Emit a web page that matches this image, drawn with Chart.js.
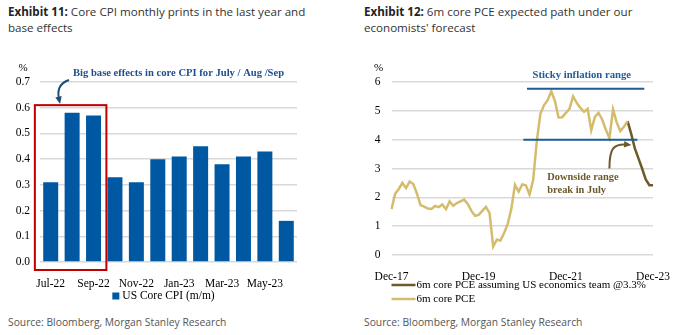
<!DOCTYPE html>
<html>
<head>
<meta charset="utf-8">
<script src="https://cdn.jsdelivr.net/npm/chart.js@4.4.1/dist/chart.umd.min.js"></script>
<style>
  body { margin: 0; width: 685px; height: 335px; background: #fff; position: relative; overflow: hidden; font-family: "Open Sans", sans-serif; }
  .titulo { position: absolute; top: 4px; font-size: 11.6px; line-height: 16px; color: #333; }
  .titulo b { color: #222; }
  .fuente { position: absolute; top: 315px; font-size: 10.3px; color: #555; }
  .lienzo { position: absolute; top: 55px; }
</style>
</head>
<body>
<div class="titulo" style="left:8px;"><b>Exhibit 11:</b> Core CPI monthly prints in the last year and<br>base effects</div>
<div class="titulo" style="left:364px;"><b>Exhibit 12:</b> 6m core PCE expected path under our<br>economists' forecast</div>
<div class="lienzo" style="left:0px;width:335px;height:250px;"><canvas id="graficoCPI"></canvas></div>
<div class="lienzo" style="left:340px;width:345px;height:250px;"><canvas id="graficoPCE"></canvas></div>
<div class="fuente" style="left:8px;">Source: Bloomberg, Morgan Stanley Research</div>
<div class="fuente" style="left:364px;">Source: Bloomberg, Morgan Stanley Research</div>

<script>
// Datos del gráfico izquierdo (CPI subyacente mensual)
const mesesCPI = ['Jul-22', 'Aug-22', 'Sep-22', 'Oct-22', 'Nov-22', 'Dec-22', 'Jan-23', 'Feb-23', 'Mar-23', 'Apr-23', 'May-23', 'Jun-23'];
const valoresCPI = [0.31, 0.58, 0.57, 0.33, 0.31, 0.40, 0.41, 0.45, 0.38, 0.41, 0.43, 0.16];
const etiquetasCPI = ['Jul-22', 'Sep-22', 'Nov-22', 'Jan-23', 'Mar-23', 'May-23'];

// Datos del gráfico derecho (PCE subyacente 6m)
const mesesPCE = [
  'Dec-17', 'Jan-18', 'Feb-18', 'Mar-18', 'Apr-18', 'May-18', 'Jun-18', 'Jul-18', 'Aug-18', 'Sep-18', 'Oct-18', 'Nov-18',
  'Dec-18', 'Jan-19', 'Feb-19', 'Mar-19', 'Apr-19', 'May-19', 'Jun-19', 'Jul-19', 'Aug-19', 'Sep-19', 'Oct-19', 'Nov-19',
  'Dec-19', 'Jan-20', 'Feb-20', 'Mar-20', 'Apr-20', 'May-20', 'Jun-20', 'Jul-20', 'Aug-20', 'Sep-20', 'Oct-20', 'Nov-20',
  'Dec-20', 'Jan-21', 'Feb-21', 'Mar-21', 'Apr-21', 'May-21', 'Jun-21', 'Jul-21', 'Aug-21', 'Sep-21', 'Oct-21', 'Nov-21',
  'Dec-21', 'Jan-22', 'Feb-22', 'Mar-22', 'Apr-22', 'May-22', 'Jun-22', 'Jul-22', 'Aug-22', 'Sep-22', 'Oct-22', 'Nov-22',
  'Dec-22', 'Jan-23', 'Feb-23', 'Mar-23', 'Apr-23', 'May-23', 'Jun-23', 'Jul-23', 'Aug-23', 'Sep-23', 'Oct-23', 'Nov-23',
  'Dec-23'
];
const pceReal = [
  1.59, 2.12, 2.29, 2.50, 2.32, 2.55, 2.46, 2.13, 1.73, 1.68, 1.61, 1.60,
  1.70, 1.66, 1.75, 1.59, 1.86, 1.71, 1.80, 1.86, 1.92, 1.77, 1.53, 1.36,
  1.39, 1.53, 1.67, 1.45, 0.29, 0.53, 0.50, 0.76, 1.08, 1.60, 2.43, 2.20,
  2.45, 2.42, 2.10, 2.60, 3.95, 4.90, 5.20, 5.37, 5.68, 5.34, 4.77, 4.78,
  4.93, 5.07, 5.50, 5.28, 5.10, 4.97, 5.07, 4.33, 4.79, 4.93, 4.70, 4.35,
  4.05, 5.05, 4.60, 4.30, 4.45, 4.64, null, null, null, null, null, null,
  null
];
const pceProyeccion = [
  null, null, null, null, null, null, null, null, null, null, null, null,
  null, null, null, null, null, null, null, null, null, null, null, null,
  null, null, null, null, null, null, null, null, null, null, null, null,
  null, null, null, null, null, null, null, null, null, null, null, null,
  null, null, null, null, null, null, null, null, null, null, null, null,
  null, null, null, null, null, 4.64, 4.20, 3.70, 3.35, 3.00, 2.62, 2.42,
  2.42
];
const etiquetasPCE = ['Dec-17', 'Dec-19', 'Dec-21', 'Dec-23'];

const serif = '"Liberation Serif", "Times New Roman", serif';
const colorGrid = '#d9d9d9';

// Flecha curva sencilla
function flecha(ctx, puntos, color) {
  const [p0, c1, c2, p1] = puntos;
  ctx.save();
  ctx.strokeStyle = color;
  ctx.fillStyle = color;
  ctx.lineWidth = 2;
  ctx.beginPath();
  ctx.moveTo(p0[0], p0[1]);
  ctx.bezierCurveTo(c1[0], c1[1], c2[0], c2[1], p1[0], p1[1]);
  ctx.stroke();
  const ang = Math.atan2(p1[1] - c2[1], p1[0] - c2[0]);
  ctx.beginPath();
  ctx.moveTo(p1[0] + 5 * Math.cos(ang), p1[1] + 5 * Math.sin(ang));
  ctx.lineTo(p1[0] + 4 * Math.cos(ang + 2.2), p1[1] + 4 * Math.sin(ang + 2.2));
  ctx.lineTo(p1[0] + 4 * Math.cos(ang - 2.2), p1[1] + 4 * Math.sin(ang - 2.2));
  ctx.closePath();
  ctx.fill();
  ctx.restore();
}

// Gráfico de barras: CPI
function crearGraficoCPI() {
  const ctx = document.getElementById('graficoCPI').getContext('2d');
  const anotaciones = {
    id: 'anotacionesCPI',
    afterDraw(chart) {
      const c = chart.ctx, a = chart.chartArea;
      const x = chart.scales.x, y = chart.scales.y;
      c.save();
      // símbolo de porcentaje
      c.font = '11px ' + serif;
      c.fillStyle = '#000';
      c.textAlign = 'center';
      c.textBaseline = 'middle';
      c.fillText('%', a.left - 17, a.top - 14);
      // recuadro rojo sobre Jul/Aug/Sep
      const ancho = (x.getPixelForValue(1) - x.getPixelForValue(0));
      const izq = x.getPixelForValue(0) - ancho * 0.74;
      const der = x.getPixelForValue(2) + ancho * 0.6;
      const arriba = y.getPixelForValue(0.61);
      const abajo = a.bottom + 8;
      c.strokeStyle = '#c00000';
      c.lineWidth = 2;
      c.strokeRect(izq, arriba, der - izq, abajo - arriba);
      // texto de anotación
      c.font = 'bold 10.6px ' + serif;
      c.fillStyle = '#1f4e8c';
      c.textAlign = 'left';
      c.fillText('Big base effects in core CPI for July / Aug /Sep', 73, a.top - 9);
      c.restore();
      flecha(c, [[69, a.top - 2], [60, a.top + 1], [57, a.top + 8], [59, a.top + 17]], '#1f4e79');
      // leyenda
      c.save();
      c.font = '11.5px ' + serif;
      const texto = chart.data.datasets[0].label;
      const tw = c.measureText(texto).width;
      const cx = (a.left + a.right) / 2 - 5;
      const lx = cx - (tw + 10) / 2;
      const ly = a.bottom + 34;
      c.fillStyle = chart.data.datasets[0].backgroundColor;
      c.fillRect(lx, ly - 3.5, 7, 7);
      c.fillStyle = '#000';
      c.textBaseline = 'middle';
      c.fillText(texto, lx + 10, ly);
      c.restore();
    }
  };
  new Chart(ctx, {
    type: 'bar',
    data: {
      labels: mesesCPI,
      datasets: [{
        label: 'US Core CPI (m/m)',
        data: valoresCPI,
        backgroundColor: '#0058a3',
        barPercentage: 0.7,
        categoryPercentage: 1
      }]
    },
    options: {
      responsive: true,
      maintainAspectRatio: false,
      animation: false,
      layout: { padding: { top: 27, right: 38, bottom: 0, left: 0 } },
      plugins: { legend: { display: false }, tooltip: { enabled: false } },
      scales: {
        x: {
          grid: { display: false },
          border: { display: false },
          afterFit(s) { s.height = 43; },
          ticks: {
            autoSkip: false,
            maxRotation: 0,
            padding: 7,
            color: '#000',
            font: { family: serif, size: 11.5 },
            callback(v) { const l = this.getLabelForValue(v); return etiquetasCPI.includes(l) ? l : ''; }
          }
        },
        y: {
          min: 0, max: 0.7,
          afterFit(s) { s.width = 40; },
          grid: { color: colorGrid, lineWidth: 1.5, drawTicks: false },
          border: { display: false },
          ticks: {
            stepSize: 0.1,
            padding: 10,
            color: '#000',
            font: { family: serif, size: 11.5 },
            callback(v) { return v.toFixed(1); }
          }
        }
      }
    },
    plugins: [anotaciones]
  });
}

// Gráfico de líneas: PCE
function crearGraficoPCE() {
  const ctx = document.getElementById('graficoPCE').getContext('2d');
  const anotaciones = {
    id: 'anotacionesPCE',
    afterDraw(chart) {
      const c = chart.ctx, a = chart.chartArea;
      const x = chart.scales.x, y = chart.scales.y;
      c.save();
      c.font = '11px ' + serif;
      c.fillStyle = '#000';
      c.textAlign = 'center';
      c.textBaseline = 'middle';
      c.fillText('%', a.left - 13, a.top - 14);
      // rango de inflación persistente
      c.strokeStyle = '#1f5c99';
      c.lineWidth = 2;
      c.beginPath();
      c.moveTo(x.getPixelForValue(37.3), y.getPixelForValue(5.77));
      c.lineTo(x.getPixelForValue(69.6), y.getPixelForValue(5.77));
      c.moveTo(x.getPixelForValue(36.3), y.getPixelForValue(4.0));
      c.lineTo(x.getPixelForValue(67.7), y.getPixelForValue(4.0));
      c.stroke();
      c.font = 'bold 10.7px ' + serif;
      c.fillStyle = '#1f5c99';
      c.fillText('Sticky inflation range', x.getPixelForValue(52.4), a.top - 7);
      c.font = 'bold 10.4px ' + serif;
      c.fillStyle = '#6b5a2b';
      c.textAlign = 'left';
      c.fillText('Downside range', x.getPixelForValue(42.9), y.getPixelForValue(2.71));
      c.fillText('break in July', x.getPixelForValue(42.9), y.getPixelForValue(2.23));
      c.restore();
      const px = x.getPixelForValue(60), py = y.getPixelForValue(3.0);
      flecha(c, [[px, py], [px, py - 20], [px + 4, py - 25], [px + 17, py - 24]], '#6b5a2b');
      // leyenda
      c.save();
      c.font = '11px ' + serif;
      c.textBaseline = 'middle';
      const orden = [1, 0];
      orden.forEach((i, k) => {
        const ds = chart.data.datasets[i];
        const ly = a.bottom + 30 + k * 14;
        c.strokeStyle = ds.borderColor;
        c.lineWidth = 2.5;
        c.beginPath();
        c.moveTo(a.left, ly);
        c.lineTo(a.left + 24, ly);
        c.stroke();
        c.fillStyle = '#000';
        c.fillText(ds.label, a.left + 25, ly);
      });
      c.restore();
    }
  };
  new Chart(ctx, {
    type: 'line',
    data: {
      labels: mesesPCE,
      datasets: [
        {
          label: '6m core PCE',
          data: pceReal,
          borderColor: '#d5bc6c',
          borderWidth: 2.5,
          pointRadius: 0,
          tension: 0,
          spanGaps: false
        },
        {
          label: '6m core PCE assuming US economics team @3.3%',
          data: pceProyeccion,
          borderColor: '#6b5a2b',
          borderWidth: 2.5,
          pointRadius: 0,
          tension: 0,
          spanGaps: false
        }
      ]
    },
    options: {
      responsive: true,
      maintainAspectRatio: false,
      animation: false,
      layout: { padding: { top: 27, right: 32, bottom: 0, left: 0 } },
      plugins: { legend: { display: false }, tooltip: { enabled: false } },
      scales: {
        x: {
          grid: { display: false },
          border: { display: false },
          afterFit(s) { s.height = 50; },
          ticks: {
            autoSkip: false,
            maxRotation: 0,
            padding: 7,
            color: '#000',
            font: { family: serif, size: 11.5 },
            callback(v) { const l = this.getLabelForValue(v); return etiquetasPCE.includes(l) ? l : ''; }
          }
        },
        y: {
          min: 0, max: 6,
          afterFit(s) { s.width = 51.5; },
          grid: { color: colorGrid, lineWidth: 1.5, drawTicks: false },
          border: { display: false },
          ticks: {
            stepSize: 1,
            padding: 11,
            color: '#000',
            font: { family: serif, size: 11.5 }
          }
        }
      }
    },
    plugins: [anotaciones]
  });
}

crearGraficoCPI();
crearGraficoPCE();
</script>
</body>
</html>
